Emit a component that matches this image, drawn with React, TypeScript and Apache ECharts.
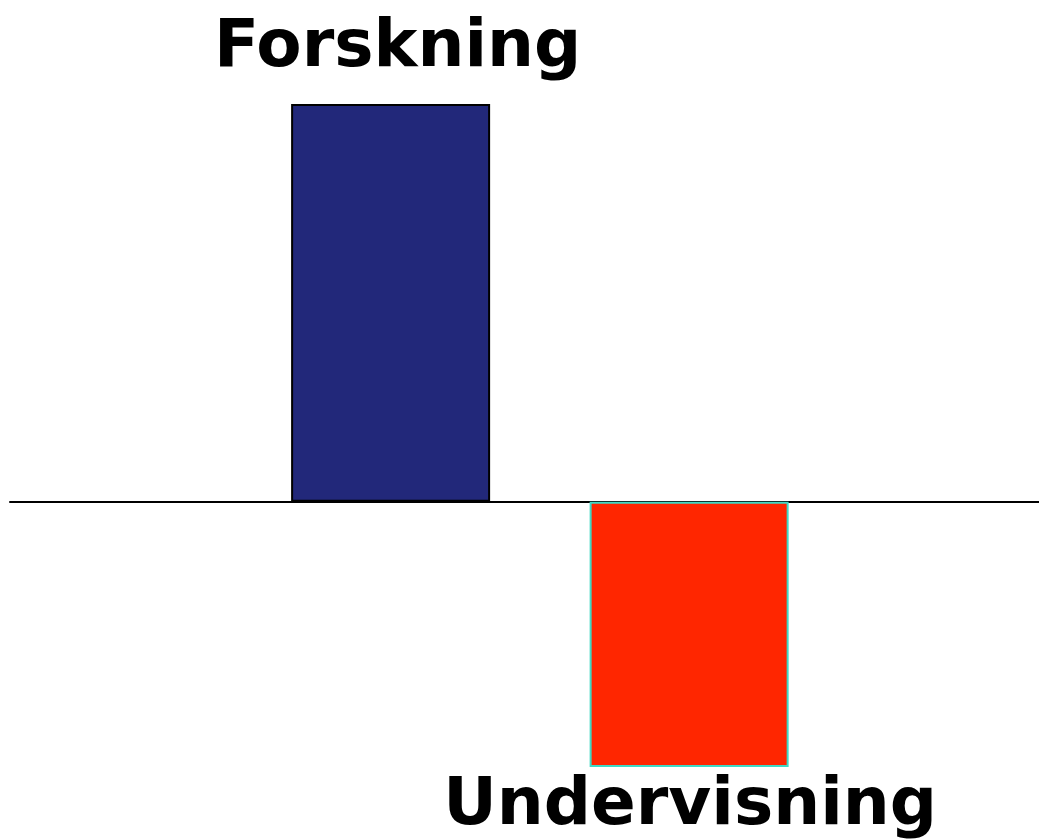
import React, { useEffect, useRef } from "react";
import * as echarts from "echarts";

const categories = ["Forskning", "Undervisning"];
const positions = [1, 2];
const values = [3, -2];
const fillColors = ["#22287A", "#FF2600"];
const borderColors = ["#000000", "#3FD9C4"];

export default function App() {
  const ref = useRef<HTMLDivElement>(null);
  useEffect(() => {
    if (!ref.current) return;
    const chart = echarts.init(ref.current, null, { renderer: "svg" });
    const data = categories.map((name, i) => ({
      name,
      value: [positions[i], values[i]],
      itemStyle: { color: fillColors[i], borderColor: borderColors[i], borderWidth: 2 },
      label: {
        show: true,
        formatter: name,
        position: values[i] >= 0 ? "top" : "bottom",
        distance: values[i] >= 0 ? 29 : 2,
        offset: values[i] >= 0 ? [7, 0] : [1, 0],
        color: "#000",
        fontFamily: "DejaVu Sans",
        fontWeight: "bold",
        fontSize: 66,
        lineHeight: 64,
      },
    }));
    chart.setOption({
      animation: false,
      backgroundColor: "#ffffff",
      grid: { left: 10, right: 0, top: 104, bottom: 73 },
      xAxis: {
        type: "value",
        min: -0.275,
        max: 3.172,
        axisLine: { show: true, onZero: true, lineStyle: { color: "#000", width: 2 } },
        axisTick: { show: false },
        axisLabel: { show: false },
        splitLine: { show: false },
      },
      yAxis: {
        type: "value",
        min: -2,
        max: 3,
        show: false,
        splitLine: { show: false },
      },
      series: [
        {
          type: "bar",
          barWidth: 199,
          data,
        },
      ],
    });
    return () => chart.dispose();
  }, []);
  return (
    <div
      ref={ref}
      style={{ position: "fixed", left: 0, top: 0, width: 1039, height: 840 }}
    />
  );
}
